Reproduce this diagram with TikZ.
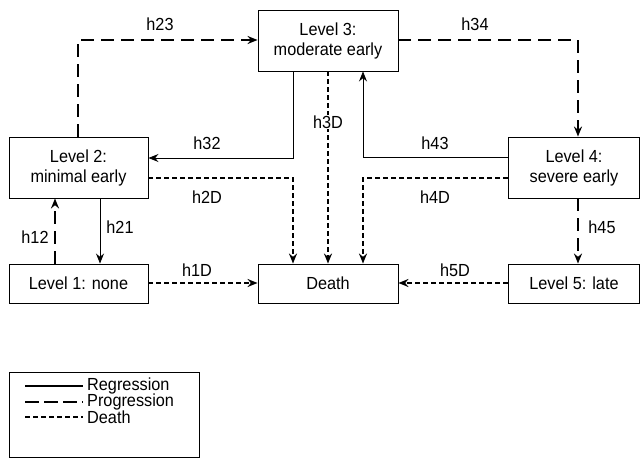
\documentclass[tikz,border=0pt]{standalone}
\usepackage{fontspec}
\setmainfont[FakeStretch=0.93]{Liberation Sans}
\usetikzlibrary{arrows.meta}
\begin{document}
\begin{tikzpicture}[x=1pt,y=-1pt,
  every node/.style={font=\fontsize{17.5}{20}\selectfont},
  box/.style={draw, line width=0.9pt, inner sep=0pt, align=center},
  reg/.style={line width=0.9pt, -{Stealth[length=10pt,width=8pt]}},
  prog/.style={line width=1.7pt, dash pattern=on 13pt off 7pt, -{Stealth[length=10pt,width=8pt]}},
  dth/.style={line width=1.7pt, dash pattern=on 5pt off 3pt, -{Stealth[length=10pt,width=8pt]}},
  lbl/.style={inner sep=1pt},
]
\useasboundingbox (0,0) rectangle (641,460);
\node[box, minimum width=140pt, minimum height=61pt] (L3) at (328,40.5) {Level 3:\\moderate early};
\node[box, minimum width=139pt, minimum height=61pt] (L2) at (78.5,167.5) {Level 2:\\minimal early};
\node[box, minimum width=131pt, minimum height=61pt] (L4) at (574,167.5) {Level 4:\\severe early};
\node[box, minimum width=139pt, minimum height=39pt] (L1) at (78.5,283.5) {Level 1: none};
\node[box, minimum width=140pt, minimum height=39pt] (D) at (328,283.5) {Death};
\node[box, minimum width=131pt, minimum height=39pt] (L5) at (574,283.5) {Level 5: late};

% progression
\draw[prog] (L2.north -| 78,0) -- (78,40) -- (L3.west |- 0,40);
\node[lbl] (h23) at (160,24) {h23};
\draw[prog] (L3.east |- 0,40) -- (578,40) -- (L4.north -| 578,0);
\node[lbl] (h34) at (475,24) {h34};
\draw[prog] (L1.north -| 55,0) -- (L2.south -| 55,0);
\node[lbl] (h12) at (35,237) {h12};
\draw[prog] (L4.south -| 578,0) -- (L5.north -| 578,0);
\node[lbl] (h45) at (602,227) {h45};

% regression
\draw[reg] (L3.south -| 293,0) -- (293,158) -- (L2.east |- 0,158);
\node[lbl] (h32) at (207,143) {h32};
\draw[reg] (L4.west |- 0,157) -- (363,157) -- (L3.south -| 363,0);
\node[lbl] (h43) at (435,143) {h43};
\draw[reg] (L2.south -| 100,0) -- (L1.north -| 100,0);
\node[lbl] (h21) at (120,227) {h21};

% death
\draw[dth] (L3.south -| 328,0) -- (D.north -| 328,0);
\node[lbl, fill=white] (h3D) at (328,122) {h3D};
\draw[dth] (L2.east |- 0,178) -- (293,178) -- (D.north -| 293,0);
\node[lbl] (h2D) at (207,197) {h2D};
\draw[dth] (L4.west |- 0,178) -- (363,178) -- (D.north -| 363,0);
\node[lbl] (h4D) at (435,197) {h4D};
\draw[dth] (L1.east |- 0,283) -- (D.west |- 0,283);
\node[lbl] (h1D) at (197,270) {h1D};
\draw[dth] (L5.west |- 0,283) -- (D.east |- 0,283);
\node[lbl] (h5D) at (455,270) {h5D};

% legend
\node[draw, line width=0.9pt, minimum width=190pt, minimum height=85pt, inner sep=0pt] (leg) at (104,415) {};
\coordinate (a1) at (25,386); \coordinate (b1) at (83,386);
\coordinate (a2) at (25,402); \coordinate (b2) at (83,402);
\coordinate (a3) at (25,417); \coordinate (b3) at (83,417);
\draw[line width=1.2pt] (a1) -- (b1);
\draw[line width=1.7pt, dash pattern=on 14pt off 5pt] (a2) -- (b2);
\draw[line width=1.7pt, dash pattern=on 5pt off 3pt] (a3) -- (b3);
\node[anchor=west, inner sep=0pt] (t1) at (87,386) {Regression};
\node[anchor=west, inner sep=0pt] (t2) at (87,402) {Progression};
\node[anchor=west, inner sep=0pt] (t3) at (87,417) {Death};
\end{tikzpicture}
\end{document}
